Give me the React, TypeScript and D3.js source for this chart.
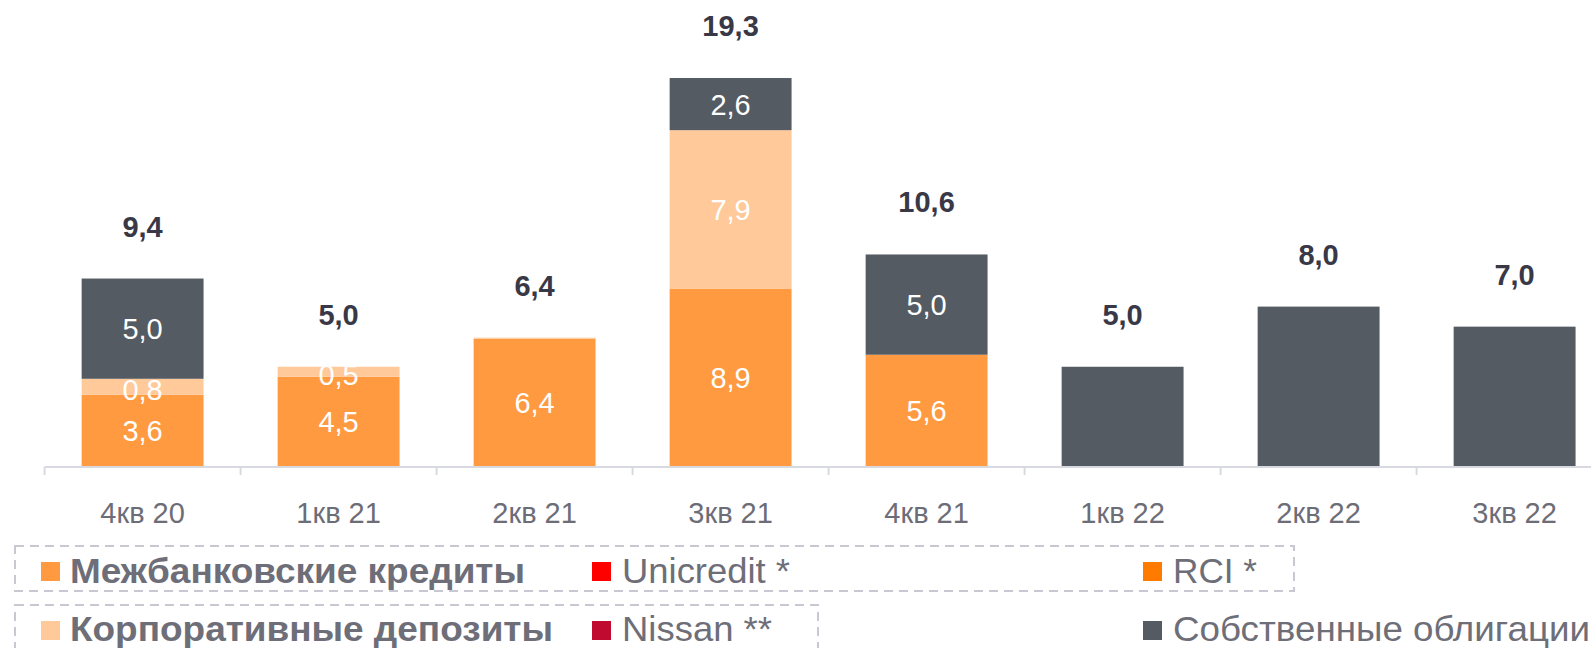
import React from "react";
import * as d3 from "d3";

const categories = ["4кв 20", "1кв 21", "2кв 21", "3кв 21", "4кв 21", "1кв 22", "2кв 22", "3кв 22"];
const interbank = [3.6, 4.5, 6.4, 8.9, 5.6, 0, 0, 0];
const deposits = [0.8, 0.5, 0.05, 7.9, 0, 0, 0, 0];
const bonds = [5.0, 0, 0, 2.6, 5.0, 5.0, 8.0, 7.0];
const totals = [9.4, 5.0, 6.4, 19.3, 10.6, 5.0, 8.0, 7.0];

const seriesNames = ["interbank", "deposits", "bonds"];
const seriesColors = ["#FF9A40", "#FFC999", "#545B62"];

const legendRow1 = [
  { label: "Межбанковские кредиты", color: "#FF9A40", bold: true },
  { label: "Unicredit *", color: "#FF0000", bold: false },
  { label: "RCI *", color: "#FF7B00", bold: false },
];
const legendRow2 = [
  { label: "Корпоративные депозиты", color: "#FFC999", bold: true },
  { label: "Nissan **", color: "#C00A30", bold: false },
  { label: "Собственные облигации", color: "#545B62", bold: false },
];

const W = 1591;
const H = 648;
const FONT = "'Liberation Sans', Arial, sans-serif";
const fmt = (v: number) => v.toFixed(1).replace(".", ",");

export default function App() {
  const x = d3
    .scaleBand<string>()
    .domain(categories)
    .range([44.6, 44.6 + 196 * categories.length])
    .paddingInner(0.378)
    .paddingOuter(0.189);
  const band = d3.scaleBand<string>().domain(categories).range([44.6, 44.6 + 196 * categories.length]);
  const y = d3.scaleLinear().domain([0, 20]).range([467, 467 - 401]);

  const table = categories.map((c, i) => ({
    cat: c,
    interbank: interbank[i],
    deposits: deposits[i],
    bonds: bonds[i],
  }));
  const stack = d3.stack<any>().keys(seriesNames)(table);

  const colX = [41, 592, 1143];
  const textX = [70, 622, 1173];
  const widths1 = [455, 168, 84];
  const widths2 = [483, 150, 417];

  const legendRow = (items: typeof legendRow1, sqY: number, baseY: number, widths: number[]) =>
    items.map((it, i) => (
      <g key={it.label}>
        <rect x={colX[i]} y={sqY} width={19} height={19} fill={it.color} />
        <text
          x={textX[i]}
          y={baseY}
          fontSize={35}
          fontWeight={it.bold ? "bold" : "normal"}
          fill="#6E6E78"
          fontFamily={FONT}
          textLength={widths[i]}
          lengthAdjust="spacingAndGlyphs"
        >
          {it.label}
        </text>
      </g>
    ));

  return (
    <svg
      width={W}
      height={H}
      style={{ position: "absolute", left: 0, top: 0, background: "#fff" }}
      fontFamily={FONT}
    >
      {/* bars */}
      {stack.map((layer, si) => (
        <g key={seriesNames[si]} fill={seriesColors[si]}>
          {layer.map((d, i) =>
            d[1] - d[0] > 0 ? (
              <rect
                key={i}
                x={x(categories[i])}
                y={y(d[1])}
                width={x.bandwidth()}
                height={y(d[0]) - y(d[1])}
              />
            ) : null
          )}
        </g>
      ))}
      {/* inner labels */}
      {stack.map((layer, si) => (
        <g key={"l" + si}>
          {layer.map((d, i) => {
            const v = d[1] - d[0];
            const sum = interbank[i] + deposits[i] + bonds[i];
            if (v < 0.3 || v >= sum - 1e-9) return null;
            const cy = (y(d[0]) + y(d[1])) / 2;
            return (
              <text
                key={i}
                x={(x(categories[i]) as number) + x.bandwidth() / 2}
                y={cy + 10.5 + (v < 1 ? 3 : 0)}
                textAnchor="middle"
                fontSize={29}
                fill="#FFFFFF"
              >
                {fmt(v)}
              </text>
            );
          })}
        </g>
      ))}
      {/* totals */}
      {categories.map((c, i) => {
        const sum = interbank[i] + deposits[i] + bonds[i];
        return (
          <text
            key={c}
            x={(x(c) as number) + x.bandwidth() / 2}
            y={y(sum) - 42}
            textAnchor="middle"
            fontSize={29}
            fontWeight="bold"
            fill="#383847"
          >
            {fmt(totals[i])}
          </text>
        );
      })}
      {/* axis */}
      <line x1={44.6} x2={W} y1={467} y2={467} stroke="#D9D9E1" strokeWidth={2} />
      {categories.map((c) => (
        <line key={c} x1={band(c)} x2={band(c)} y1={467} y2={475} stroke="#D9D9E1" strokeWidth={2} />
      ))}
      {categories.map((c) => (
        <text
          key={c}
          x={(band(c) as number) + band.bandwidth() / 2}
          y={523}
          textAnchor="middle"
          fontSize={29}
          fill="#6D6D77"
        >
          {c}
        </text>
      ))}
      {/* legend boxes */}
      <rect x={15} y={546} width={1279} height={45} fill="none" stroke="#C8C8D2" strokeWidth={2} strokeDasharray="9 6" />
      <rect x={15} y={605} width={803} height={60} fill="none" stroke="#C8C8D2" strokeWidth={2} strokeDasharray="9 6" />
      {legendRow(legendRow1, 562, 583, widths1)}
      {legendRow(legendRow2, 621, 641, widths2)}
    </svg>
  );
}
